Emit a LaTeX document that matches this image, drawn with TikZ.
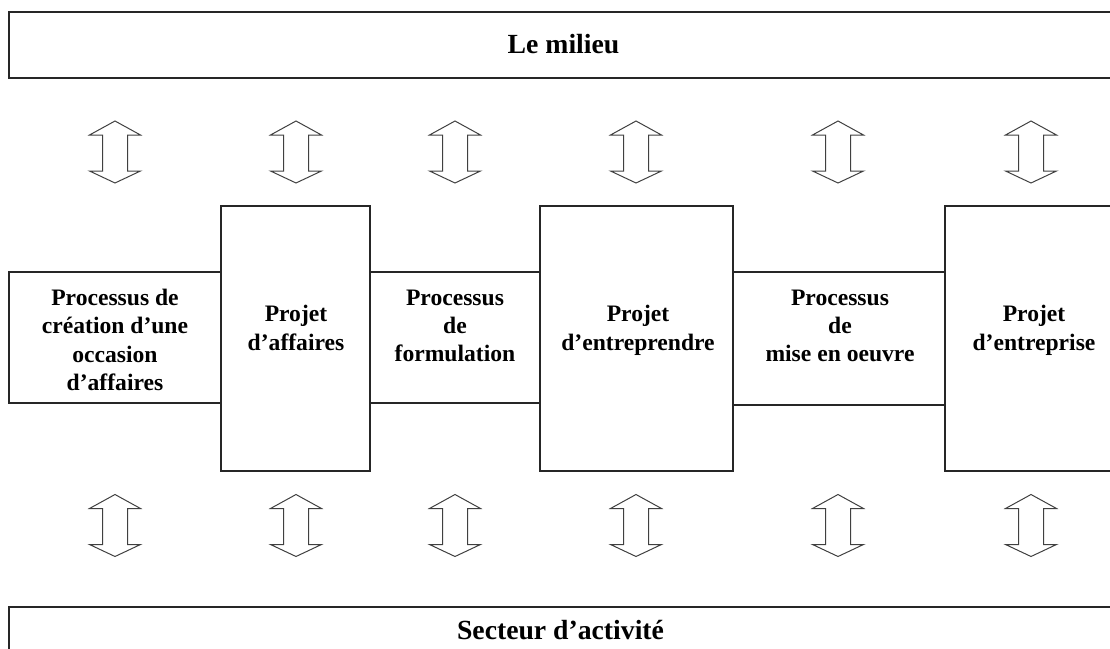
\documentclass[tikz,border=0pt]{standalone}
\usepackage{fontspec}
\setmainfont{Liberation Serif}
\begin{document}
\begin{tikzpicture}[x=1pt,y=-1pt,
  boxst/.style={draw=black!85, line width=1.4pt, inner sep=0pt, outer sep=0pt, anchor=north west},
  itxt/.style={font=\fontsize{23.6}{28.3}\selectfont\bfseries, align=center, inner sep=0pt, anchor=north},
  lbl/.style={font=\fontsize{27.7}{33}\selectfont\bfseries, inner sep=0pt, anchor=base},
  arrowline/.style={draw=black!75, line width=1pt, line join=miter},
  dblarrow/.pic={\draw[arrowline] (0,0) -- (25.5,14) -- (12.5,14) -- (12.5,50) -- (25.5,50) -- (0,62) -- (-25.5,50) -- (-12.5,50) -- (-12.5,14) -- (-25.5,14) -- cycle;}
]
\useasboundingbox (0,0) rectangle (1110,648);
\clip (0,0) rectangle (1110,648);

% outer boxes
\node[boxst, minimum width=1107, minimum height=66] (milieu) at (9,12) {};
\node[boxst, minimum width=1107, minimum height=80] (secteur) at (9,607) {};
\node[lbl] (tmil) at (563.5,53) {Le milieu};
\node[lbl] (tsec) at (560.5,639) {Secteur d’activité};

% process boxes
\node[boxst, minimum width=212, minimum height=131] (proc1) at (9,272) {};
\node[boxst, minimum width=170, minimum height=131] (proc2) at (370,272) {};
\node[boxst, minimum width=212, minimum height=133] (proc3) at (733,272) {};

% project boxes
\node[boxst, minimum width=149, minimum height=265] (proj1) at (221,206) {};
\node[boxst, minimum width=193, minimum height=265] (proj2) at (540,206) {};
\node[boxst, minimum width=178, minimum height=265] (proj3) at (945,206) {};

% texts
\node[itxt] (t1) at (115,289) {Processus de\\création d’une\\occasion\\d’affaires};
\node[itxt] (t2) at (296,305.4) {Projet\\d’affaires};
\node[itxt] (t3) at (455,289.4) {Processus\\de\\formulation};
\node[itxt] (t4) at (638,305.4) {Projet\\d’entreprendre};
\node[itxt] (t5) at (840,289.4) {Processus\\de\\mise en oeuvre};
\node[itxt] (t6) at (1034,305.4) {Projet\\d’entreprise};

% double arrows
\foreach \cx in {115,296,455,636,838,1031}{
  \pic at (\cx,121) {dblarrow};
  \pic at (\cx,494.5) {dblarrow};
}
\end{tikzpicture}
\end{document}
